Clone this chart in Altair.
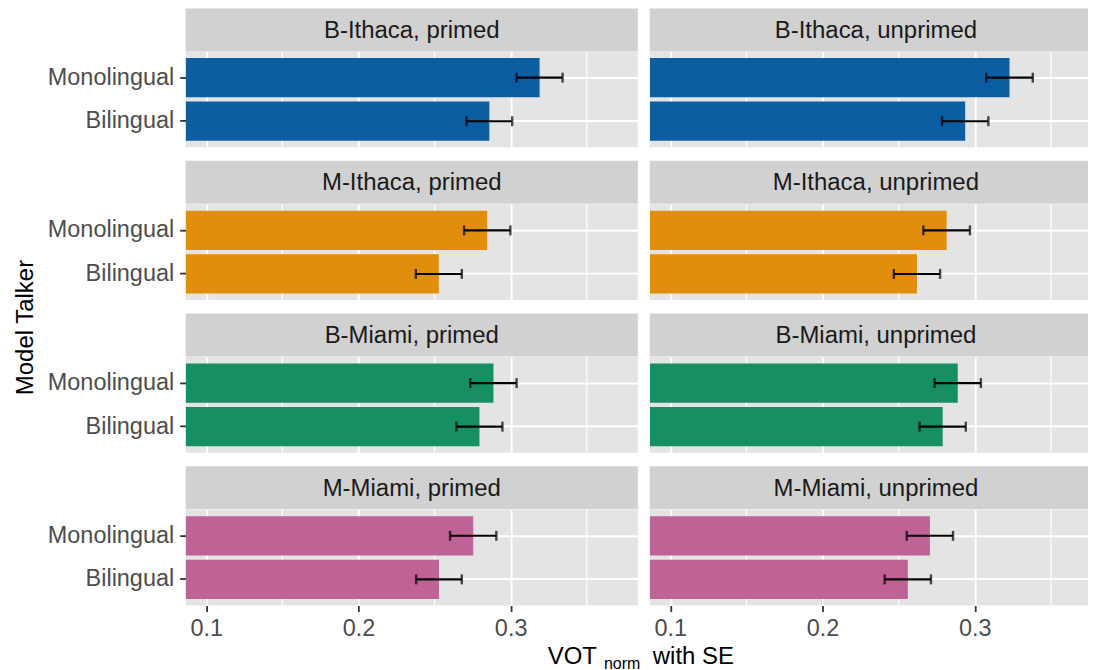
import altair as alt
import pandas as pd

# ---------------- data ----------------
groups = ["B-Ithaca", "M-Ithaca", "B-Miami", "M-Miami"]
conditions = ["primed", "unprimed"]
talkers = ["Monolingual", "Bilingual"]
group_colors = ["#0b5ea1", "#e08e0b", "#168f62", "#bf6295"]

# mean VOT_norm, one [Monolingual, Bilingual] pair per group
vot_primed = [[0.319, 0.286], [0.2846, 0.2528], [0.2887, 0.2795], [0.2754, 0.2529]]
vot_unprimed = [[0.3228, 0.2937], [0.2815, 0.2620], [0.2888, 0.2789], [0.2705, 0.2560]]
# standard errors
se_primed = [[0.0151, 0.0150], [0.0152, 0.0151], [0.0152, 0.0151], [0.0152, 0.0150]]
se_unprimed = [[0.0153, 0.0152], [0.0153, 0.0152], [0.0152, 0.0152], [0.0152, 0.0152]]

major_ticks = [0.1, 0.2, 0.3]
minor_ticks = [0.15, 0.25, 0.35]

rows = []
for gi, g in enumerate(groups):
    for c, vv, ss in (("primed", vot_primed, se_primed), ("unprimed", vot_unprimed, se_unprimed)):
        for ti, t in enumerate(talkers):
            v, s = vv[gi][ti], ss[gi][ti]
            rows.append({"group": g, "condition": c, "talker": t, "vot": v, "lo": v - s, "hi": v + s})
df = pd.DataFrame(rows)

# ---------------- layout / style ----------------
FONT = "Liberation Sans"
PANEL_FILL = "#e4e4e4"
STRIP_FILL = "#d1d1d1"
PANEL_H, STRIP_H, GAP = 96, 43, 13.5
FULL_W = 453
WIDTHS = [453, 439]
X_MIN = 0.0865
PX_PER_UNIT = 1525.0


def strip(label, width, gap):
    base = alt.Chart(pd.DataFrame({"label": [label]}))
    rect = base.mark_rect(color=STRIP_FILL).encode(
        x=alt.value(0), x2=alt.value(width), y=alt.value(gap), y2=alt.value(gap + STRIP_H)
    )
    txt = base.mark_text(font=FONT, fontSize=24, color="#1a1a1a", align="center", baseline="middle").encode(
        text="label:N", x=alt.value(FULL_W / 2), y=alt.value(gap + STRIP_H / 2 + 1)
    )
    return alt.layer(rect, txt).properties(width=width, height=gap + STRIP_H)


def panel(sub, color, width, left, bottom, extras=()):
    xmax = X_MIN + width / PX_PER_UNIT
    xscale = alt.Scale(domain=[X_MIN, xmax], nice=False, zero=False)
    yscale = alt.Scale(domain=talkers, paddingInner=0.1, paddingOuter=0.15)
    xaxis = alt.Axis(
        values=major_ticks, grid=True, gridColor="white", gridWidth=2, domain=False,
        labels=bottom, ticks=bottom, tickColor="#333333", tickSize=6, tickWidth=1.8,
        labelFont=FONT, labelFontSize=23.5, labelColor="#4d4d4d", labelPadding=5,
        format=".1f", title=None,
    )
    yaxis = alt.Axis(
        grid=True, gridColor="white", gridWidth=2, bandPosition=0.5, domain=False,
        labels=left, ticks=left, tickColor="#333333", tickSize=6, tickWidth=1.8,
        labelFont=FONT, labelFontSize=23.5, labelColor="#4d4d4d", labelPadding=6, title=None,
    )
    minor = alt.Chart(pd.DataFrame({"m": minor_ticks})).mark_rule(color="white", strokeWidth=1.2).encode(
        x=alt.X("m:Q", scale=xscale, axis=xaxis)
    )
    base = alt.Chart(sub)
    y = alt.Y("talker:N", scale=yscale, axis=yaxis, sort=talkers)
    bars = base.mark_bar(clip=True, color=color).encode(
        x=alt.X("vot:Q", scale=xscale, axis=xaxis, stack=None), y=y
    )
    err = base.mark_rule(color="black", strokeWidth=2.1).encode(
        x=alt.X("lo:Q", scale=xscale, axis=xaxis), x2="hi:Q", y=y
    )
    cap_lo = base.mark_tick(color="black", thickness=2.4, size=10).encode(
        x=alt.X("lo:Q", scale=xscale, axis=xaxis), y=y
    )
    cap_hi = base.mark_tick(color="black", thickness=2.4, size=10).encode(
        x=alt.X("hi:Q", scale=xscale, axis=xaxis), y=y
    )
    layers = [minor, bars, err, cap_lo, cap_hi] + list(extras)
    return alt.layer(*layers).properties(
        width=width, height=PANEL_H, view=alt.ViewBackground(fill=PANEL_FILL, stroke=None)
    )


def text_layer(txt, x, y, size, align="left", angle=0):
    return alt.Chart(pd.DataFrame({"t": [txt]})).mark_text(
        font=FONT, fontSize=size, color="black", align=align, baseline="alphabetic", angle=angle
    ).encode(text="t:N", x=alt.value(x), y=alt.value(y))


y_title = [text_layer("Model Talker", -152.5, 123.5, 24, align="center", angle=270)]
x_title = [
    text_layer("VOT", 412, 154.5, 24, align="right"),
    text_layer("norm", 419, 159.5, 16, align="left"),
    text_layer("with SE", 468, 154.5, 24, align="left"),
]

charts = []
for gi, g in enumerate(groups):
    gap = 0 if gi == 0 else GAP
    for ci, c in enumerate(conditions):
        charts.append(strip(f"{g}, {c}", WIDTHS[ci], gap))
    for ci, c in enumerate(conditions):
        sub = df[(df.group == g) & (df.condition == c)]
        extras = []
        if ci == 0 and gi == 1:
            extras = y_title
        if ci == 0 and gi == 3:
            extras = x_title
        charts.append(panel(sub, group_colors[gi], WIDTHS[ci], ci == 0, gi == 3, extras))

chart = (
    alt.concat(*charts, columns=2, spacing={"row": 0, "column": 12}, bounds="flush")
    .properties(padding={"left": 6, "top": 0, "right": 0, "bottom": 0}, background="white")
    .configure_view(stroke=None)
)

chart.save("out.html", embed_options={"renderer": "svg", "actions": False})
